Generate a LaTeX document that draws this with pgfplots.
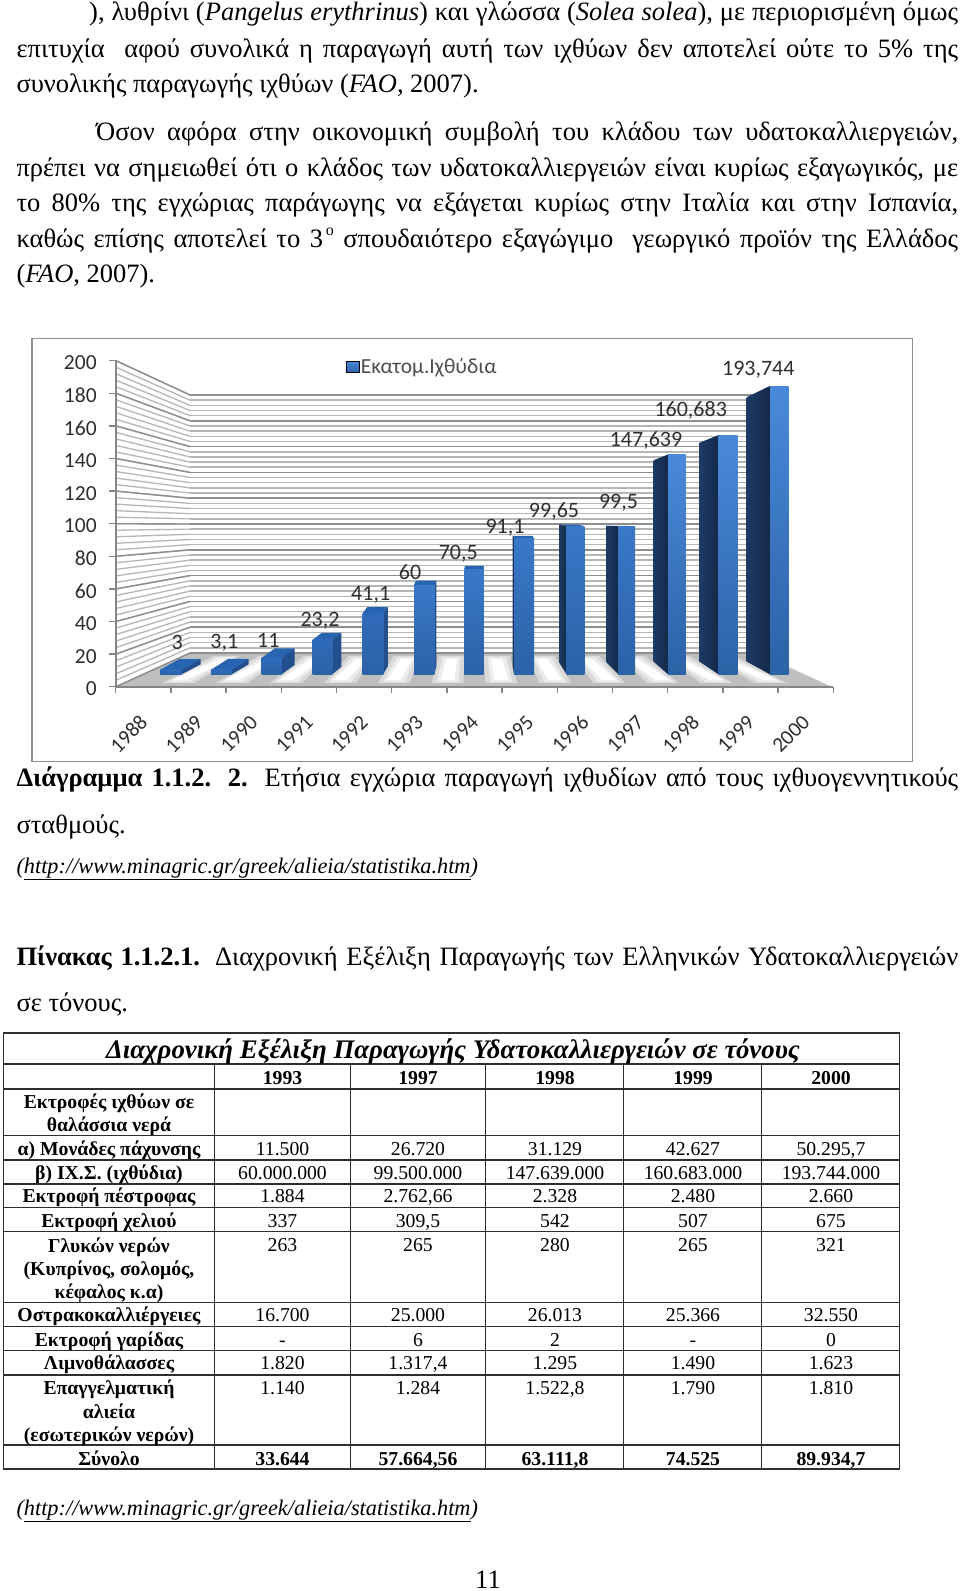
\documentclass[border=0pt]{standalone}
\usepackage{fontspec}
\setmainfont{Liberation Serif}
\newfontfamily\calibri{Carlito}
\usepackage{pgfplots}
\usepackage{pgfplotstable}
\pgfplotsset{compat=1.18}
\definecolor{gridmaj}{HTML}{8E8E8E}
\definecolor{gridmin}{HTML}{B6B6B6}
\definecolor{axisgray}{HTML}{868686}
\definecolor{lab}{HTML}{2E2E2E}
\definecolor{barbot}{HTML}{2C62A6}
\definecolor{barlow}{HTML}{2F6ABA}
\definecolor{barmid}{HTML}{3A78C8}
\definecolor{bartop}{HTML}{4A89DA}
\definecolor{sideR}{HTML}{234F8E}
\definecolor{topR}{HTML}{2764B2}
\definecolor{sideA}{HTML}{1D3A63}
\definecolor{sideB}{HTML}{14294A}
\definecolor{floorg}{HTML}{BEBEBE}
\definecolor{tline}{HTML}{2E2E2E}
\pgfplotstableread{
x y label
177.3 21.5 3
224.3 21.5 3,1
268.3 23.05 11
320 35.8 23,2
370.7 53.7 41,1
410 68.9 60
458.3 81.3 70,5
505 98.5 91,1
554 109.7 99,65
618.5 115.3 99,5
646 156.9 147,639
690.7 177.3 160,683
758.3 204.6 193,744
}\labeltable
% one bar: x-left, x-right, value, depth dx (px), top rise (px), base rise (px), front top colour
\newcommand{\OneBar}[7]{%
  \pgfmathsetmacro\xe{#4<0?#1:#2}%
  \pgfmathsetmacro\xb{\xe+#4}%
  \pgfmathsetmacro\xl{#1+#4}%
  \pgfmathsetmacro\xr{#2+#4}%
  \pgfmathsetmacro\yt{#3+#5/1.488}%
  \pgfmathsetmacro\yb{#6/1.488}%
  \addplot[draw=none,fill=topR] coordinates {(#1,#3) (#2,#3) (\xr,\yt) (\xl,\yt)};
  \ifdim #4pt<0pt
    \addplot[draw=none,left color=sideA,right color=sideB] coordinates {(\xe,0) (\xb,\yb) (\xb,\yt) (\xe,#3)};
  \else
    \addplot[draw=none,fill=sideR] coordinates {(\xe,0) (\xb,\yb) (\xb,\yt) (\xe,#3)};
  \fi
  \addplot[draw=none,top color=#7,bottom color=barbot] coordinates {(#1,0) (#2,0) (#2,#3) (#1,#3)};
}
\newcommand{\Bd}{\fontsize{26.5}{30}\selectfont}
\newcommand{\Tb}{\fontsize{19.7}{23}\selectfont}
\newcommand{\T}[3]{\node[anchor=base west,inner sep=0pt] at (#1,#2) {\Bd #3};}
\newcommand{\J}[4]{\node[anchor=base west,inner sep=0pt] at (#1,#2) {\Bd\makebox[#3pt][s]{#4}};}
\newcommand{\C}[3]{\node[anchor=base,inner sep=0pt,yshift=-1pt] at (#1,#2) {\Tb #3};}
\newcommand{\B}[3]{\node[anchor=base,inner sep=0pt,yshift=-1pt] at (#1,#2) {\Tb\bfseries #3};}
\newcommand{\Row}[6]{\C{282.5}{#1}{#2}\C{418}{#1}{#3}\C{555}{#1}{#4}\C{693}{#1}{#5}\C{831}{#1}{#6}}
\newcommand{\Rowb}[6]{\B{282.5}{#1}{#2}\B{418}{#1}{#3}\B{555}{#1}{#4}\B{693}{#1}{#5}\B{831}{#1}{#6}}
\begin{document}
\begin{tikzpicture}
\path[use as bounding box,fill=white] (0pt,0pt) rectangle (960pt,-1591pt);
\begin{scope}[x=1pt,y=-1pt]
% body text
\J{89}{20.5}{869}{), λυθρίνι (\textit{Pangelus erythrinus}) και γλώσσα (\textit{Solea solea}), με περιορισμένη όμως}
\J{16.3}{57}{941.7}{επιτυχία\ \ αφού συνολικά η παραγωγή αυτή των ιχθύων δεν αποτελεί ούτε το 5\% της}
\T{16.3}{92}{συνολικής παραγωγής ιχθύων (\textit{FAO}, 2007).}
\J{96}{140}{862}{Όσον αφόρα στην οικονομική συμβολή του κλάδου των υδατοκαλλιεργειών,}
\J{16.3}{176}{941.7}{πρέπει να σημειωθεί ότι ο κλάδος των υδατοκαλλιεργειών είναι κυρίως εξαγωγικός, με}
\J{16.3}{211.7}{941.7}{το 80\% της εγχώριας παράγωγης να εξάγεται κυρίως στην Ιταλία και στην Ισπανία,}
\J{16.3}{247}{941.7}{καθώς επίσης αποτελεί το 3\raisebox{0.42em}{\fontsize{16}{16}\selectfont\,ο} σπουδαιότερο εξαγώγιμο\ \ γεωργικό προϊόν της Ελλάδος}
\T{16.3}{282}{(\textit{FAO}, 2007).}
% chart frame
\draw[draw=gridmaj,line width=1.6pt] (32,338.5) rectangle (912.5,761.5);
% floor
\fill[floorg] (116,687) -- (832,687) -- (758,653) -- (190,653) -- cycle;
\foreach \i in {1,...,12}{
  \pgfmathsetmacro\xf{115.7+55.2*\i+(190+43.7*\i-115.7-55.2*\i)*0.118}
  \pgfmathsetmacro\xk{115.7+55.2*\i+(190+43.7*\i-115.7-55.2*\i)*0.882}
  \fill[gray!30] (\xf-16,683) -- (\xf+16,683) -- (\xk+13,656) -- (\xk-13,656) -- cycle;
  \fill[gray!15] (\xf-11,682) -- (\xf+11,682) -- (\xk+9,657) -- (\xk-9,657) -- cycle;
  \fill[white] (\xf-7,680) -- (\xf+7,680) -- (\xk+5.5,659) -- (\xk-5.5,659) -- cycle;
}
% walls
\foreach \v in {0,4,...,200}{
  \pgfmathsetmacro\yl{686.7-1.63*\v}
  \pgfmathsetmacro\yr{653-1.29*\v}
  \draw[gridmin,line width=1.3pt] (116,\yl) -- (190,\yr);
  \draw[gridmin,line width=1.5pt] (190,\yr) -- (758,\yr);
}
\foreach \v in {0,20,...,200}{
  \pgfmathsetmacro\yl{686.7-1.63*\v}
  \pgfmathsetmacro\yr{653-1.29*\v}
  \draw[gridmaj,line width=1.4pt] (116,\yl) -- (190,\yr);
  \draw[gridmaj,line width=1.7pt] (190,\yr) -- (758,\yr);
}
\end{scope}
% visible axis
\begin{axis}[
  at={(115.7pt,-686.7pt)},anchor=south west,
  scale only axis,width=717.6pt,height=326pt,
  xmin=0,xmax=13,ymin=0,ymax=200,
  axis x line*=bottom,axis y line*=left,
  axis line style={axisgray,line width=1.8pt,-},
  every tick/.style={axisgray,line width=1.4pt},
  tick align=outside,major tick length=6.5pt,
  xtick={0,...,13},xticklabels={},
  extra x ticks={0.5,1.5,2.5,3.5,4.5,5.5,6.5,7.5,8.5,9.5,10.5,11.5,12.5},
  extra x tick labels={1988,1989,1990,1991,1992,1993,1994,1995,1996,1997,1998,1999,2000},
  extra x tick style={major tick length=0pt,
    xticklabel style={rotate=45,anchor=east,xshift=-19pt,yshift=-23pt,
      font=\calibri\fontsize{21}{24}\selectfont,text=lab}},
  ytick={0,20,...,200},
  /pgf/number format/assume math mode=true,
  yticklabel style={font=\calibri\fontsize{21.5}{23}\selectfont,text=lab,xshift=-9pt,yshift=-2pt},
  clip=false,
]
\end{axis}
% bars and value labels
\begin{axis}[
  at={(0pt,-674.3pt)},anchor=south west,
  scale only axis,width=960pt,height=297.6pt,
  xmin=0,xmax=960,ymin=0,ymax=200,
  hide axis,clip=false,
  legend style={at={(0.4396,1.0326)},anchor=center,draw=none,fill=none,
    font=\calibri\fontsize{21.5}{23}\selectfont,text=lab!85,inner sep=0pt,
    legend cell align=left},
  legend image code/.code={
    \fill[top color=bartop,bottom color=barbot] (0pt,-5.5pt) rectangle (13pt,5.5pt);},
]
\addlegendimage{}
\addlegendentry{Εκατομ.Ιχθύδια}
\OneBar{160}{181.7}{3}{19}{10.7}{10}{barlow}
\OneBar{211}{231.7}{3.1}{17}{10.7}{10}{barlow}
\OneBar{261.7}{281.7}{11}{13}{9.5}{9.5}{barlow}
\OneBar{312.7}{332.3}{23.2}{9}{7}{7.5}{barlow}
\OneBar{362.7}{383.3}{41.1}{4.5}{6}{8}{barlow}
\OneBar{414}{434.3}{60}{2}{4.5}{8}{barmid}
\OneBar{464.3}{483.3}{70.5}{0.5}{3.5}{3}{barmid}
\OneBar{514}{534}{91.1}{-1.5}{3}{9}{barmid}
\OneBar{566.7}{584.3}{99.65}{-7.3}{1.5}{11.5}{barmid}
\OneBar{618.3}{635}{99.5}{-12.3}{0.5}{12.5}{barmid}
\OneBar{668}{685.7}{147.639}{-14.3}{-5.7}{12.7}{bartop}
\OneBar{718.5}{737.3}{160.683}{-19}{-7.6}{12.7}{bartop}
\OneBar{770}{788.3}{193.744}{-23.3}{-11.3}{12.7}{bartop}
\addplot[draw=none,mark=none,nodes near coords,point meta=explicit symbolic,
  nodes near coords style={anchor=center,inner sep=0pt,text=lab,
    font=\calibri\fontsize{22}{24}\selectfont}]
  table[x=x,y=y,meta=label] {\labeltable};
\end{axis}
\begin{scope}[x=1pt,y=-1pt]
% caption
\node[anchor=base west,inner sep=0pt] at (16.3,786.7) {\Bd\makebox[941.7pt][s]{\textbf{Διάγραμμα 1.1.2. 2.} Ετήσια εγχώρια παραγωγή ιχθυδίων από τους ιχθυογεννητικούς}};
\T{16.3}{833}{σταθμούς.}
\node[anchor=base west,inner sep=0pt] at (16.3,873.3) {\fontsize{22.3}{26}\selectfont\itshape (\underline{http://www.minagric.gr/greek/alieia/statistika.htm})};
\node[anchor=base west,inner sep=0pt] at (16.3,965) {\Bd\makebox[941.7pt][s]{\textbf{Πίνακας 1.1.2.1.} Διαχρονική Εξέλιξη Παραγωγής των Ελληνικών Υδατοκαλλιεργειών}};
\T{16.3}{1011}{σε τόνους.}
% table rules
\draw[tline,line width=1.7pt] (3.5,1032.7) rectangle (899.5,1469);
\foreach \y in {1064,1089,1135.7,1160,1184,1207.7,1231.7,1302.7,1326.3,1350.7,1375,1445}
  \draw[tline,line width=1.5pt] (3.5,\y) -- (899.5,\y);
\foreach \x in {214.8,350.3,485.9,623.8,761.7}
  \draw[tline,line width=1pt] (\x,1064) -- (\x,1469);
% table text
\node[anchor=base,inner sep=0pt] at (453,1058) {\fontsize{26.8}{30}\selectfont\bfseries\itshape Διαχρονική Εξέλιξη Παραγωγής Υδατοκαλλιεργειών σε τόνους};
\Rowb{1083.7}{1993}{1997}{1998}{1999}{2000}
\B{109}{1107}{Εκτροφές ιχθύων σε}
\B{109}{1130}{θαλάσσια νερά}
\B{109}{1154}{α) Μονάδες πάχυνσης}
\Row{1154}{11.500}{26.720}{31.129}{42.627}{50.295,7}
\B{109}{1178.3}{β) ΙΧ.Σ. (ιχθύδια)}
\Row{1178.3}{60.000.000}{99.500.000}{147.639.000}{160.683.000}{193.744.000}
\B{109}{1201.7}{Εκτροφή πέστροφας}
\Row{1201.7}{1.884}{2.762,66}{2.328}{2.480}{2.660}
\B{109}{1226.5}{Εκτροφή χελιού}
\Row{1226.5}{337}{309,5}{542}{507}{675}
\B{109}{1251.7}{Γλυκών νερών}
\Row{1250}{263}{265}{280}{265}{321}
\B{109}{1274.5}{(Κυπρίνος, σολομός,}
\B{109}{1297}{κέφαλος κ.α)}
\B{109}{1320.7}{Οστρακοκαλλιέργειες}
\Row{1320.7}{16.700}{25.000}{26.013}{25.366}{32.550}
\B{109}{1345}{Εκτροφή γαρίδας}
\Row{1345}{-}{6}{2}{-}{0}
\B{109}{1368.3}{Λιμνοθάλασσες}
\Row{1368.3}{1.820}{1.317,4}{1.295}{1.490}{1.623}
\B{109}{1393}{Επαγγελματική}
\Row{1393}{1.140}{1.284}{1.522,8}{1.790}{1.810}
\B{109}{1417}{αλιεία}
\B{109}{1440.7}{(εσωτερικών νερών)}
\B{109}{1464}{Σύνολο}
\Rowb{1464}{33.644}{57.664,56}{63.111,8}{74.525}{89.934,7}
\node[anchor=base west,inner sep=0pt] at (16.3,1515) {\fontsize{22.3}{26}\selectfont\itshape (\underline{http://www.minagric.gr/greek/alieia/statistika.htm})};
\node[anchor=base,inner sep=0pt] at (488,1588) {\Bd 11};
\end{scope}
\end{tikzpicture}
\end{document}
